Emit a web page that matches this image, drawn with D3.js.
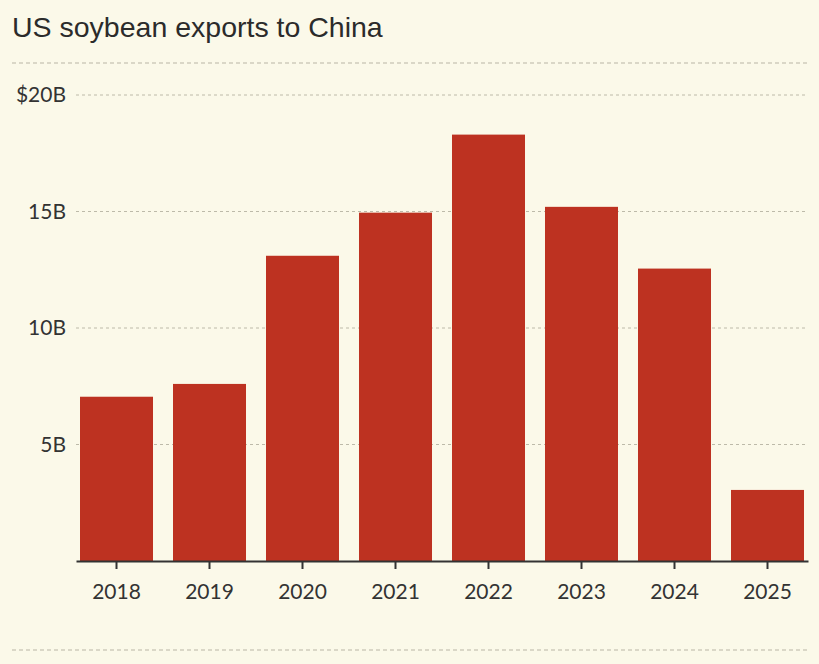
<!DOCTYPE html>
<html>
<head>
<meta charset="utf-8">
<script src="https://cdn.jsdelivr.net/npm/d3@7"></script>
<style>
  body { margin: 0; background: #fbf9e9; }
  svg { display: block; }
</style>
</head>
<body>
<svg id="chart"></svg>
<script>
const years = ['2018', '2019', '2020', '2021', '2022', '2023', '2024', '2025'];
const exportsBn = [7.05, 7.6, 13.1, 14.95, 18.3, 15.2, 12.55, 3.05];
const yTicks = [5, 10, 15, 20];

const width = 819, height = 664;
const margin = { top: 95, right: 11, bottom: 103, left: 76 };

const svg = d3.select('#chart')
  .attr('width', width)
  .attr('height', height);

svg.append('rect')
  .attr('width', width).attr('height', height)
  .attr('fill', '#fbf9e9');

// title
svg.append('text')
  .attr('x', 12).attr('y', 37)
  .attr('font-family', 'Liberation Sans, Arial, sans-serif')
  .attr('font-size', 28.5)
  .attr('fill', '#2b2b2b')
  .text('US soybean exports to China');

// dashed separators top and bottom
[63, 650].forEach(y => {
  svg.append('line')
    .attr('x1', 12).attr('x2', 809)
    .attr('y1', y).attr('y2', y)
    .attr('stroke', '#cfccbc')
    .attr('stroke-width', 1.5)
    .attr('stroke-dasharray', '4,3');
});

const x = d3.scaleBand()
  .domain(years)
  .range([margin.left, width - margin.right])
  .paddingInner(0.215)
  .paddingOuter(0.043);

const y = d3.scaleLinear()
  .domain([0, 20])
  .range([561, margin.top]);

// gridlines + y labels
const grid = svg.append('g');
grid.selectAll('line')
  .data(yTicks)
  .enter().append('line')
  .attr('x1', margin.left).attr('x2', width - margin.right)
  .attr('y1', d => y(d)).attr('y2', d => y(d))
  .attr('stroke', '#bdbaa9')
  .attr('stroke-width', 1)
  .attr('stroke-dasharray', '3,3');

grid.selectAll('text')
  .data(yTicks)
  .enter().append('text')
  .attr('x', 66)
  .attr('y', d => y(d))
  .attr('dy', '0.35em')
  .attr('text-anchor', 'end')
  .attr('font-family', 'Lato, sans-serif')
  .attr('font-size', 21)
  .attr('fill', '#333')
  .text(d => d === 20 ? '$20B' : d + 'B');

// bars
svg.append('g')
  .selectAll('rect')
  .data(exportsBn)
  .enter().append('rect')
  .attr('x', (d, i) => x(years[i]))
  .attr('width', x.bandwidth())
  .attr('y', d => y(d))
  .attr('height', d => y(0) - y(d))
  .attr('fill', '#bd3221');

// x axis
const xAxis = svg.append('g')
  .attr('transform', `translate(0,${y(0)})`)
  .call(d3.axisBottom(x).tickSize(8).tickSizeOuter(0).tickPadding(15));

xAxis.select('.domain')
  .attr('stroke', '#333')
  .attr('stroke-width', 2);
xAxis.selectAll('.tick line')
  .attr('stroke', '#333')
  .attr('stroke-width', 2);
xAxis.selectAll('.tick text')
  .attr('font-family', 'Lato, sans-serif')
  .attr('font-size', 21)
  .attr('fill', '#333');
</script>
</body>
</html>
